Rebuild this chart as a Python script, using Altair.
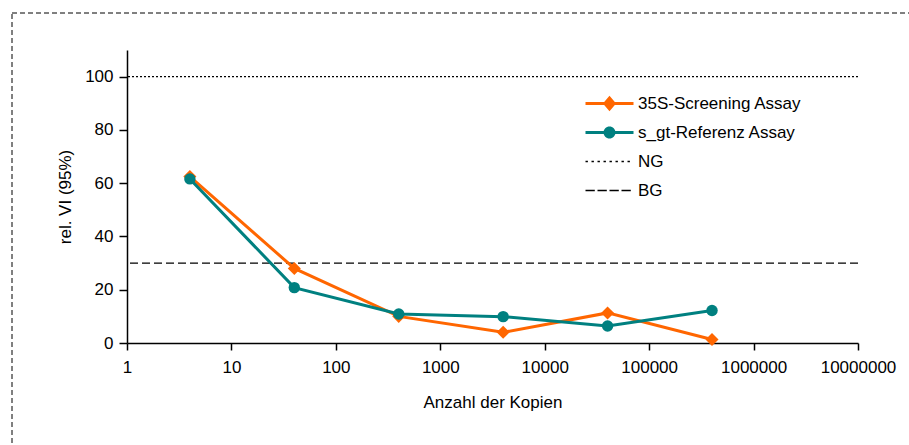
import altair as alt
import pandas as pd

# Measured series: relative VI (95%) versus copy number
copies = [4, 40, 400, 4000, 40000, 400000]
screening_35s = [62.5, 28.0, 10.0, 4.0, 11.3, 1.3]
referenz_sgt = [61.6, 20.8, 10.9, 9.9, 6.4, 12.2]

# Limits: NG and BG
limit_names = ["NG", "BG"]
limit_values = [100, 30]

series_names = ["35S-Screening Assay", "s_gt-Referenz Assay", "NG", "BG"]

x_ticks = [1, 10, 100, 1000, 10000, 100000, 1000000, 10000000]
y_ticks = [0, 20, 40, 60, 80, 100]

ORANGE = "#FF6600"
TEAL = "#008080"
FONT = "Liberation Sans"

df_35s = pd.DataFrame({"copies": copies, "value": screening_35s})
df_sgt = pd.DataFrame({"copies": copies, "value": referenz_sgt})
df_lim = pd.DataFrame({"name": limit_names, "value": limit_values})

x_enc = alt.X(
    "copies:Q",
    scale=alt.Scale(type="log", domain=[1, 10000000]),
    axis=alt.Axis(
        values=x_ticks,
        format="d",
        title="Anzahl der Kopien",
        labelOverlap=False,
        labelBound=False,
        labelFlush=False,
    ),
)
y_enc = alt.Y(
    "value:Q",
    scale=alt.Scale(domain=[0, 110], nice=False),
    axis=alt.Axis(values=y_ticks, title="rel. VI (95%)"),
)

# Horizontal limit lines across the whole plot
ng_rule = (
    alt.Chart(df_lim)
    .transform_filter(alt.datum.name == "NG")
    .mark_rule(color="black", strokeWidth=1.3, strokeDash=[2, 2])
    .encode(y=alt.Y("value:Q", scale=alt.Scale(domain=[0, 110], nice=False)))
)
bg_rule = (
    alt.Chart(df_lim)
    .transform_filter(alt.datum.name == "BG")
    .mark_rule(color="black", strokeWidth=1.3, strokeDash=[8, 4])
    .encode(y=alt.Y("value:Q", scale=alt.Scale(domain=[0, 110], nice=False)))
)

line_35s = alt.Chart(df_35s).mark_line(color=ORANGE, strokeWidth=3).encode(x=x_enc, y=y_enc)
pts_35s = alt.Chart(df_35s).mark_point(
    shape="diamond", filled=True, color=ORANGE, size=170, opacity=1
).encode(x=x_enc, y=y_enc)

line_sgt = alt.Chart(df_sgt).mark_line(color=TEAL, strokeWidth=3).encode(x=x_enc, y=y_enc)
pts_sgt = alt.Chart(df_sgt).mark_point(
    shape="circle", filled=True, color=TEAL, size=130, opacity=1
).encode(x=x_enc, y=y_enc)


# Legend glyphs (unit = 6 px): line with marker, dotted line, dashed line
def rect(x0, x1, h):
    return f"M{x0:.3f},{-h}H{x1:.3f}V{h}H{x0:.3f}Z"


glyph_35s = rect(-4, 4, 0.25) + "M-1.1,0L0,-1.3L1.1,0L0,1.3Z"
glyph_sgt = rect(-4, 4, 0.25) + "M-1,0A1,1 0 1,1 1,0A1,1 0 1,1 -1,0Z"
glyph_ng = "".join(rect(-4 + k, -4 + k + 0.4, 0.13) for k in range(8))
glyph_bg = "".join(rect(-4 + 2 * k, -4 + 2 * k + 1.55, 0.13) for k in range(4))

legend_layer = (
    alt.Chart(alt.Data(values=[]))
    .mark_point(filled=True, size=144, opacity=1)
    .encode(
        color=alt.Color(
            "series:N",
            scale=alt.Scale(domain=series_names, range=[ORANGE, TEAL, "black", "black"]),
            legend=alt.Legend(
                title=None,
                orient="none",
                legendX=474,
                legendY=45,
                padding=0,
                symbolSize=144,
                symbolStrokeWidth=0,
                labelOffset=20,
                rowPadding=11,
                labelFontSize=17,
                labelFont=FONT,
                labelColor="black",
                labelLimit=400,
            ),
        ),
        shape=alt.Shape(
            "series:N",
            scale=alt.Scale(domain=series_names, range=[glyph_35s, glyph_sgt, glyph_ng, glyph_bg]),
        ),
    )
)

# Dashed outer frame around the figure
frame = (
    alt.Chart(pd.DataFrame({"k": [0]}))
    .mark_rect(fill=None, stroke="black", strokeWidth=1, strokeDash=[5, 3])
    .encode(x=alt.value(-115), x2=alt.value(790), y=alt.value(-37), y2=alt.value(405))
)

chart = (
    alt.layer(frame, ng_rule, bg_rule, line_35s, pts_35s, line_sgt, pts_sgt, legend_layer)
    .properties(
        width=731,
        height=293,
        autosize=alt.AutoSizeParams(type="none"),
        padding={"left": 127, "top": 50, "right": 51, "bottom": 102},
        background="white",
    )
    .configure_view(stroke=None)
    .configure_axis(
        domainColor="black",
        domainWidth=1.5,
        tickColor="black",
        tickWidth=1.5,
        grid=False,
        labelFont=FONT,
        labelFontSize=17,
        labelColor="black",
        titleFont=FONT,
        titleFontSize=17,
        titleFontWeight="normal",
        titleColor="black",
    )
    .configure_axisX(tickSize=7, labelPadding=9, titlePadding=19)
    .configure_axisY(tickSize=8, labelPadding=6, titlePadding=10)
)

chart.save("out.html", embed_options={"renderer": "svg", "actions": False})
